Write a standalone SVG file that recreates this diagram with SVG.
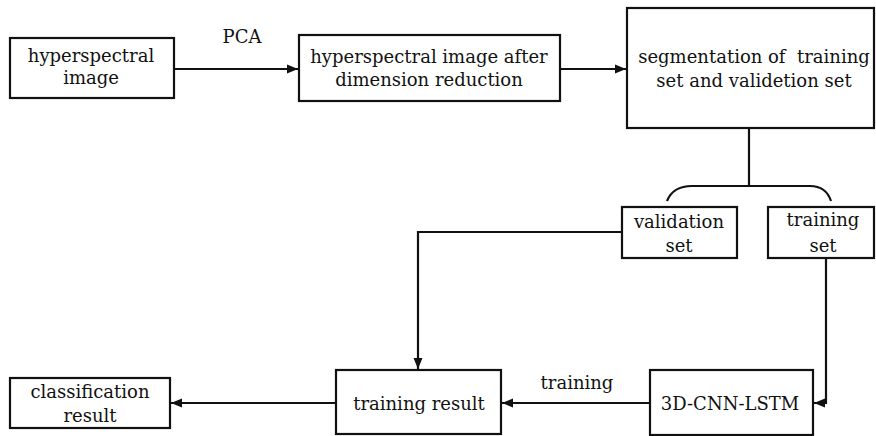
<svg xmlns="http://www.w3.org/2000/svg" width="876" height="436" viewBox="0 0 876 436">
<defs>
<style>
.box{fill:#fff;stroke:#111;stroke-width:2.2}
.t{font-family:"DejaVu Serif","Liberation Serif",serif;font-size:18px;fill:#111;text-anchor:middle}
.c{fill:none;stroke:#111;stroke-width:2.2}
</style>
<marker id="ah" markerUnits="userSpaceOnUse" markerWidth="11" markerHeight="11" viewBox="0 0 11 11" refX="11" refY="5.5" orient="auto">
<path d="M0,1 L11,5.5 L0,10 Z" fill="#111"/>
</marker>
</defs>
<rect width="876" height="436" fill="#fff"/>
<g id="connectors">
<line class="c" x1="174" y1="69" x2="298" y2="69" marker-end="url(#ah)"/>
<text class="t" x="242" y="43">PCA</text>
<line class="c" x1="560" y1="69" x2="626" y2="69" marker-end="url(#ah)"/>
<line class="c" x1="749" y1="128" x2="749" y2="186"/>
<path class="c" d="M667,201 Q673,186 692,186 L810,186 Q826,186 831,201"/>
<path class="c" d="M622,232 L418,232 L418,369" marker-end="url(#ah)"/>
<path class="c" d="M826,258 L826,403 L814,403" marker-end="url(#ah)"/>
<line class="c" x1="650" y1="403" x2="502" y2="403" marker-end="url(#ah)"/>
<text class="t" x="577" y="389">training</text>
<line class="c" x1="336" y1="403" x2="171" y2="403" marker-end="url(#ah)"/>
</g>
<g id="hyperspectral-image">
<rect class="box" x="10" y="38" width="164" height="60"/>
<text class="t" x="91" y="62">hyperspectral</text>
<text class="t" x="91" y="84">image</text>
</g>
<g id="reduced-image">
<rect class="box" x="299" y="35" width="261" height="66"/>
<text class="t" x="429" y="63">hyperspectral image after</text>
<text class="t" x="429" y="86">dimension reduction</text>
</g>
<g id="segmentation">
<rect class="box" x="627" y="8" width="247" height="120"/>
<text class="t" x="754" y="63" xml:space="preserve">segmentation of  training</text>
<text class="t" x="754" y="87">set and validetion set</text>
</g>
<g id="validation-set">
<rect class="box" x="622" y="207" width="115" height="51"/>
<text class="t" x="679" y="228">validation</text>
<text class="t" x="679" y="252">set</text>
</g>
<g id="training-set">
<rect class="box" x="768" y="207" width="106" height="51"/>
<text class="t" x="823" y="226">training</text>
<text class="t" x="823" y="252">set</text>
</g>
<g id="cnn-lstm">
<rect class="box" x="650" y="370" width="163" height="65"/>
<text class="t" x="730" y="410">3D-CNN-LSTM</text>
</g>
<g id="training-result">
<rect class="box" x="336" y="370" width="165" height="64"/>
<text class="t" x="419" y="410">training result</text>
</g>
<g id="classification-result">
<rect class="box" x="10" y="378" width="160" height="50"/>
<text class="t" x="90" y="398">classification</text>
<text class="t" x="90" y="422">result</text>
</g>
</svg>
